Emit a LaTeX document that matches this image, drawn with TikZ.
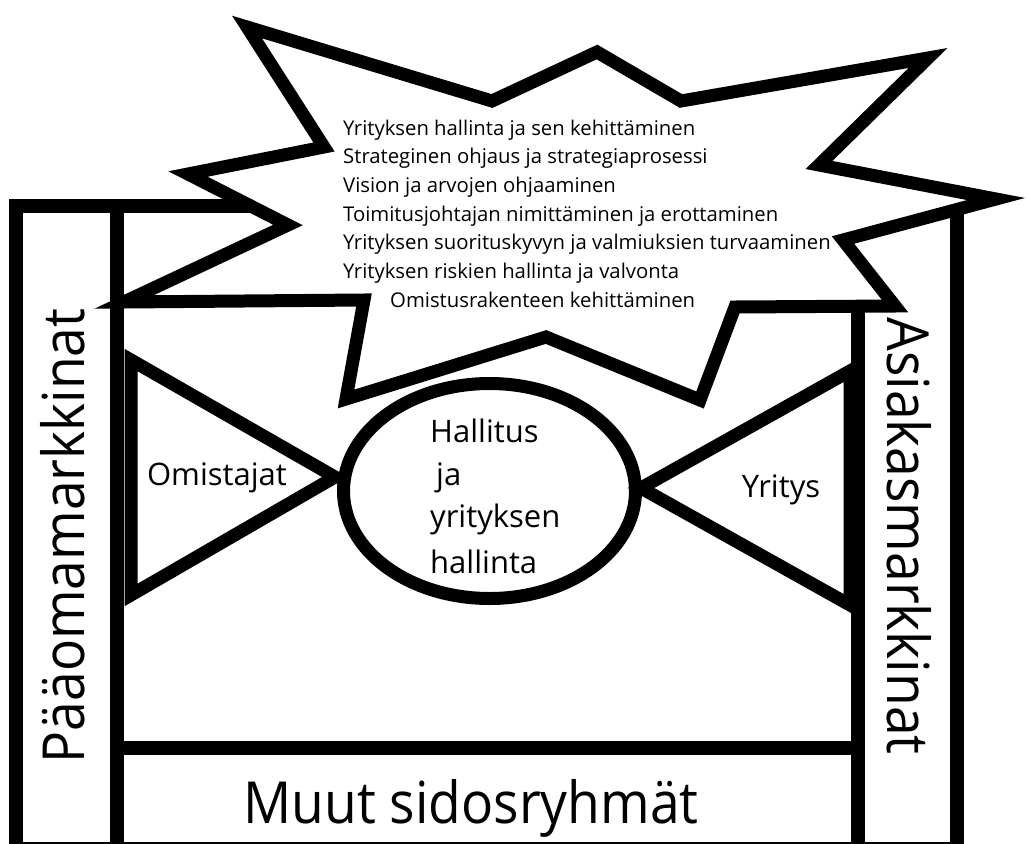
\documentclass[tikz,border=0pt]{standalone}
\usepackage{fontspec}
\setmainfont{Open Sans}
\newfontfamily\narrowfont[FakeStretch=0.92]{Open Sans}
\begin{document}
\begin{tikzpicture}[x=1pt,y=-1pt,
  wall/.style={line width=14pt, line join=miter},
  edge/.style={line width=13pt, line join=miter, miter limit=12},
  small/.style={font=\fontsize{20.3}{24}\selectfont, inner sep=0pt, anchor=base west},
  mid/.style={font=\fontsize{31}{36}\selectfont, inner sep=0pt},
  big/.style={font=\narrowfont\fontsize{58}{64}\selectfont, inner sep=0pt, anchor=base},
]
\useasboundingbox (0,0) rectangle (1029,844);

% outer frame: capital markets (left) and customer markets (right)
\draw[wall] (16,860) -- (16,206) -- (330,206);
\draw[wall] (117,206) -- (117,860);
\draw[wall] (957,860) -- (957,210);
\draw[wall] (858,860) -- (858,270);
\draw[wall] (117,748) -- (858,748);
\draw[wall] (10,849) -- (963,849);

% owners and company wedges
\draw[edge] (131,360) -- (335,477) -- (131,595) -- cycle;
\draw[edge] (850,371) -- (641,488) -- (850,605) -- cycle;

% board in the middle
\draw[edge] (489.5,491) ellipse [x radius=146, y radius=107.5];

% burst with the board's tasks
\draw[edge, fill=white]
  (247,27) -- (492,101) -- (597,52) -- (681,101) -- (928,58) -- (819,165)
  -- (996,199) -- (843,240) -- (895,306) -- (735,307) -- (700,400)
  -- (546,337) -- (346,399) -- (364,300) -- (124,302) -- (288,225)
  -- (188,174) -- (324,147) -- cycle;

\node[small] (t1) at (343,135.0) {Yrityksen hallinta ja sen kehittäminen};
\node[small] (t2) at (343,163.7) {Strateginen ohjaus ja strategiaprosessi};
\node[small] (t3) at (343,192.4) {Vision ja arvojen ohjaaminen};
\node[small] (t4) at (343,221.1) {Toimitusjohtajan nimittäminen ja erottaminen};
\node[small] (t5) at (343,249.8) {Yrityksen suorituskyvyn ja valmiuksien turvaaminen};
\node[small] (t6) at (343,278.5) {Yrityksen riskien hallinta ja valvonta};
\node[small] (t7) at (390,307.2) {Omistusrakenteen kehittäminen};

\node[mid, anchor=base west] (b1) at (430,442) {Hallitus};
\node[mid, anchor=base west] (b2) at (436,485) {ja};
\node[mid, anchor=base west] (b3) at (430,527) {yrityksen};
\node[mid, anchor=base west] (b4) at (430,573) {hallinta};

\node[mid, anchor=base] (own) at (217,485) {Omistajat};
\node[mid, anchor=base] (firm) at (781,497) {Yritys};

\node[big, rotate=90] (capm) at (84,536) {Pääomamarkkinat};
\node[big, rotate=-90] (custm) at (887,536) {Asiakasmarkkinat};
\node[big] (stake) at (471,823) {Muut sidosryhmät};
\end{tikzpicture}
\end{document}
